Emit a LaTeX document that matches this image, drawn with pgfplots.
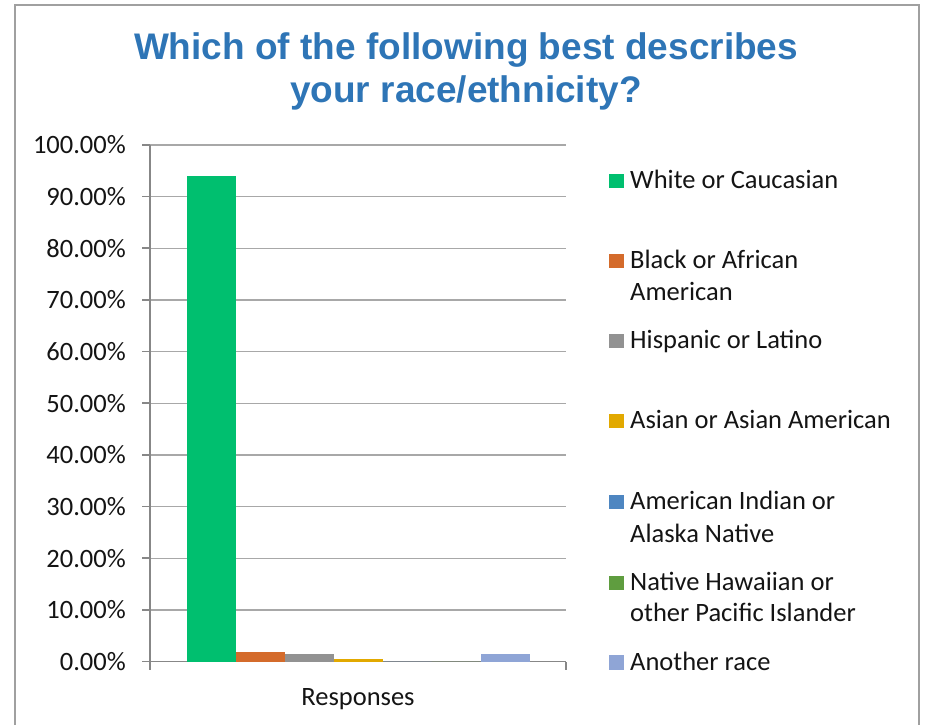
\documentclass[border=0pt]{standalone}
\usepackage{pgfplots}
\pgfplotsset{compat=1.18}
\usepackage{fontspec}
\setmainfont{Carlito}
\newfontfamily\titlefont{Liberation Sans}
\definecolor{cWhite}{HTML}{00BF6F}
\definecolor{cBlack}{HTML}{D46B2B}
\definecolor{cHisp}{HTML}{929292}
\definecolor{cAsian}{HTML}{E2A900}
\definecolor{cAmInd}{HTML}{4E86C1}
\definecolor{cHaw}{HTML}{5F9D3F}
\definecolor{cOther}{HTML}{8FA5D6}
\definecolor{titleblue}{HTML}{2E75B6}
\definecolor{axisgray}{HTML}{878787}
\definecolor{gridgray}{HTML}{A8A8A8}
\definecolor{framegray}{HTML}{A0A0A0}
\definecolor{txt}{HTML}{141414}
\begin{document}
\begin{tikzpicture}[x=1pt,y=1pt]
\useasboundingbox (0,0) rectangle (928,725);
\draw[framegray, line width=1.6pt] (15,0) -- (15,720) -- (919,720) -- (919,0);
\node[text=titleblue, font=\titlefont\bfseries\fontsize{37}{43}\selectfont, anchor=base, inner sep=0] at (466,665.5) {Which of the following best describes};
\node[text=titleblue, font=\titlefont\bfseries\fontsize{37}{43}\selectfont, anchor=base, inner sep=0] at (466,622.5) {your race/ethnicity?};
\begin{axis}[
  at={(150pt,63.5pt)}, anchor=south west,
  scale only axis, width=416pt, height=516.5pt,
  ybar=0pt, bar width=49pt,
  xmin=-1, xmax=1, ymin=0, ymax=100,
  ytick={0,10,...,100},
  yticklabel={\pgfmathprintnumber[fixed,fixed zerofill,precision=2]{\tick}\%},
  /pgf/number format/assume math mode=true,
  tick label style={font=\fontsize{26.5}{31}\selectfont, text=txt},
  yticklabel style={inner sep=0pt, xshift=-16pt},
  xtick={-1,1}, xticklabels={},
  xlabel={Responses},
  xlabel style={font=\fontsize{26.5}{31}\selectfont, text=txt, at={(axis description cs:0.5,0)}, anchor=base, inner sep=0pt, yshift=-43.5pt},
  axis x line=bottom, axis y line=left,
  axis line style={-, draw=axisgray, line width=1.6pt},
  tick align=outside, major tick length=8pt,
  tick style={draw=axisgray, line width=1.6pt},
  ymajorgrids, grid style={draw=gridgray, line width=1.3pt},
  every axis plot/.append style={draw=none},
]
\addplot[fill=cWhite] coordinates {(0,94.0)};
\addplot[fill=cBlack] coordinates {(0,1.8)};
\addplot[fill=cHisp] coordinates {(0,1.4)};
\addplot[fill=cAsian] coordinates {(0,0.5)};
\addplot[fill=cAmInd] coordinates {(0,0)};
\addplot[fill=cHaw] coordinates {(0,0)};
\addplot[fill=cOther] coordinates {(0,1.4)};
\end{axis}
\begin{scope}[every node/.style={anchor=base west, inner sep=0pt, text=txt, font=\fontsize{26.5}{31}\selectfont}]
\fill[cWhite] (609,{725-181-7}) rectangle (624,{725-181+7});
\node at (630,{725-188.5}) {White or Caucasian};
\fill[cBlack] (609,{725-261-7}) rectangle (624,{725-261+7});
\node at (630,{725-268.5}) {Black or African};
\node at (630,{725-300.5}) {American};
\fill[cHisp] (609,{725-341-7}) rectangle (624,{725-341+7});
\node at (630,{725-348.5}) {Hispanic or Latino};
\fill[cAsian] (609,{725-421.5-7}) rectangle (624,{725-421.5+7});
\node at (630,{725-429}) {Asian or Asian American};
\fill[cAmInd] (609,{725-502.5-7}) rectangle (624,{725-502.5+7});
\node at (630,{725-510}) {American Indian or};
\node at (630,{725-542.5}) {Alaska Native};
\fill[cHaw] (609,{725-583-7}) rectangle (624,{725-583+7});
\node at (630,{725-590.5}) {Native Hawaiian or};
\node at (630,{725-621.5}) {other Pacific Islander};
\fill[cOther] (609,{725-662.5-7}) rectangle (624,{725-662.5+7});
\node at (630,{725-670}) {Another race};
\end{scope}
\end{tikzpicture}
\end{document}
